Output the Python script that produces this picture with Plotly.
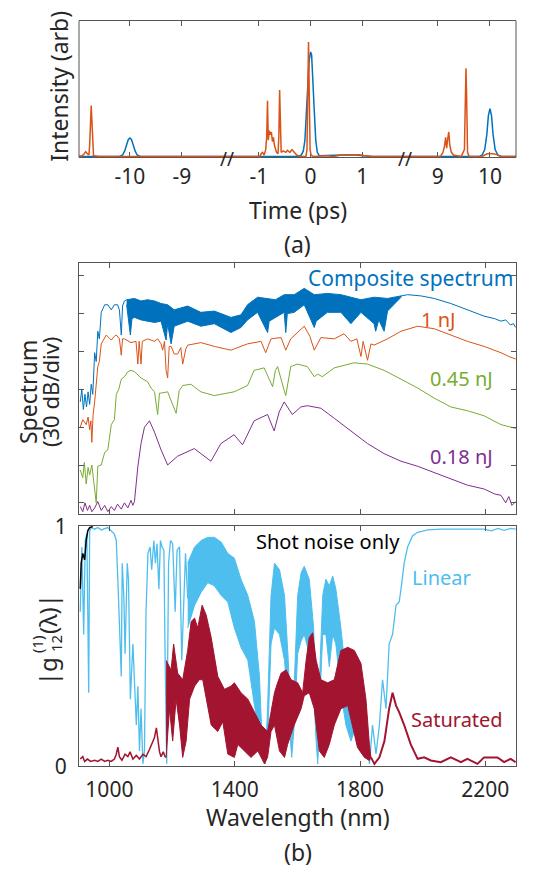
import plotly.graph_objects as go

# ---------------- (a) temporal intensity, time in ps ----------------
t_blue = [-11.0, -10.2, -10.14, -10.1, -10.06, -10.03, -10.0, -9.97, -9.94, -9.9, -9.86, -9.8,
          -1.7, -0.25, -0.18, -0.14, -0.11, -0.08, -0.05, -0.03, 0.0, 0.02, 0.04, 0.07, 0.1, 0.13,
          0.17, 0.35, 0.6, 0.8, 1.0, 1.2,
          8.5, 9.8, 9.85, 9.9, 9.94, 9.97, 10.0, 10.03, 10.06, 10.1, 10.15, 10.22, 10.6]
i_blue = [0, 0, 0.01, 0.04, 0.09, 0.125, 0.135, 0.125, 0.09, 0.04, 0.01, 0,
          0, 0, 0.01, 0.04, 0.12, 0.3, 0.55, 0.7, 0.77, 0.75, 0.62, 0.35, 0.12, 0.03,
          0.005, 0.005, 0.01, 0.012, 0.008, 0,
          0, 0, 0.01, 0.05, 0.16, 0.3, 0.352, 0.3, 0.16, 0.05, 0.01, 0, 0]

t_orange = [-11.0, -10.92, -10.88, -10.85, -10.82, -10.79, -10.775, -10.76, -10.745, -10.73, -10.715, -10.7, -10.6,
            -1.7, -0.98, -0.96, -0.93, -0.9, -0.87, -0.85, -0.835, -0.82, -0.8, -0.78, -0.76, -0.74, -0.72,
            -0.7, -0.68, -0.66, -0.63, -0.615, -0.6, -0.585, -0.57, -0.53, -0.48, -0.45, -0.4, -0.36, -0.32,
            -0.27, -0.2, -0.09, -0.07, -0.055, -0.04, -0.025, -0.01, 0.01, 0.05, 0.3, 0.45, 0.6, 0.75, 0.85,
            0.95, 1.05, 1.2,
            8.5, 9.05, 9.1, 9.13, 9.15, 9.17, 9.19, 9.21, 9.23, 9.26, 9.3, 9.45, 9.51, 9.525, 9.54, 9.555,
            9.57, 9.6, 9.85, 9.9, 9.95, 10.05, 10.12, 10.2, 10.6]
i_orange = [0, 0.005, 0.02, 0.035, 0.02, 0.01, 0.08, 0.3, 0.375, 0.25, 0.05, 0.005, 0,
            0, 0, 0.02, 0.03, 0.01, 0.05, 0.15, 0.41, 0.12, 0.19, 0.16, 0.18, 0.11, 0.14,
            0.08, 0.05, 0.03, 0.02, 0.15, 0.49, 0.15, 0.03, 0.04, 0.03, 0.045, 0.03, 0.05, 0.03,
            0.01, 0, 0, 0.05, 0.4, 0.844, 0.45, 0.05, 0.01, 0, 0.005, 0, 0.01, 0.012, 0.008,
            0.012, 0.005, 0,
            0, 0, 0.03, 0.08, 0.14, 0.06, 0.13, 0.18, 0.08, 0.03, 0.01, 0, 0.05, 0.45, 0.65, 0.4,
            0.03, 0, 0, 0.01, 0.02, 0.02, 0.015, 0, 0]

t_segments = [(-10.98, -8.13), (-1.62, 1.83), (8.37, 10.5)]
t_ticks = [[-10, -9], [-1, 0, 1], [9, 10]]

# ---------------- (b) spectra, dB vs wavelength (nm) ----------------
comp_left = [(907, -110), (912, -100), (917, -116), (922, -104), (927, -114), (932, -102), (937, -112),
             (942, -96), (947, -104), (953, -71), (958, -78), (963, -54), (968, -60), (974, -39),
             (985, -33), (995, -33), (1006, -37), (1016, -33), (1026, -33), (1032, -37), (1038, -57),
             (1042, -34), (1048, -30), (1055, -29)]
comp_hi = [(1055, -29), (1080, -28), (1101, -30), (1122, -29), (1144, -30), (1165, -32), (1186, -33),
           (1207, -37), (1250, -34), (1292, -39), (1335, -38), (1388, -43), (1420, -41), (1441, -33),
           (1473, -27), (1505, -28), (1530, -29), (1558, -25), (1590, -25), (1622, -20), (1654, -25),
           (1696, -24), (1739, -25), (1771, -27), (1803, -29), (1845, -27), (1888, -28), (1909, -27),
           (1931, -26)]
comp_lo = [(1055, -33), (1067, -57), (1072, -44), (1080, -43), (1101, -45), (1122, -46), (1144, -47),
           (1165, -46), (1181, -61), (1186, -48), (1197, -64), (1207, -50), (1250, -46), (1292, -50),
           (1335, -48), (1388, -55), (1420, -51), (1441, -45), (1473, -39), (1505, -55), (1510, -46),
           (1530, -43), (1558, -39), (1563, -55), (1568, -40), (1590, -39), (1622, -33), (1654, -51),
           (1660, -46), (1696, -39), (1739, -39), (1771, -48), (1803, -39), (1845, -48), (1850, -54),
           (1860, -45), (1877, -54), (1888, -38), (1909, -33), (1931, -27)]
comp_right = [(1931, -26), (1952, -25), (1995, -26), (2037, -28), (2090, -32), (2143, -37), (2196, -42),
              (2230, -44), (2250, -46), (2265, -45), (2280, -49), (2290, -48), (2297, -51)]

spec_1nj = [(907, -130), (915, -124), (926, -128), (932, -122), (937, -132), (941, -125), (944, -142),
            (948, -120), (953, -110), (963, -82), (968, -78), (974, -64), (990, -57), (1006, -61),
            (1016, -58), (1022, -57), (1032, -60), (1038, -73), (1042, -60), (1048, -60), (1069, -63),
            (1085, -62), (1091, -80), (1095, -62), (1101, -80), (1105, -62), (1122, -60), (1144, -62),
            (1154, -60), (1165, -64), (1170, -69), (1176, -62), (1181, -85), (1186, -91), (1191, -66),
            (1197, -66), (1207, -72), (1218, -72), (1228, -67), (1234, -80), (1244, -68), (1250, -65),
            (1292, -63), (1335, -66), (1388, -69), (1441, -64), (1484, -62), (1499, -71), (1516, -60),
            (1548, -59), (1563, -69), (1579, -60), (1622, -50), (1640, -58), (1654, -69), (1675, -59),
            (1718, -60), (1749, -56), (1771, -62), (1790, -60), (1803, -74), (1810, -62), (1824, -77),
            (1835, -64), (1845, -65), (1888, -60), (1931, -54), (1984, -50), (2037, -52), (2090, -57),
            (2143, -62), (2196, -66), (2250, -71), (2275, -74), (2297, -76)]

spec_045nj = [(907, -164), (915, -170), (920, -158), (926, -175), (932, -162), (937, -168), (944, -160),
              (950, -172), (958, -190), (963, -161), (974, -160), (985, -150), (995, -148), (1006, -128),
              (1016, -124), (1022, -104), (1030, -100), (1038, -92), (1048, -90), (1059, -86),
              (1069, -85), (1080, -86), (1101, -91), (1122, -94), (1133, -99), (1144, -102),
              (1154, -120), (1160, -103), (1165, -103), (1186, -102), (1213, -119), (1223, -101),
              (1234, -97), (1260, -96), (1292, -102), (1335, -105), (1398, -102), (1441, -97),
              (1462, -85), (1494, -83), (1516, -95), (1521, -98), (1530, -85), (1537, -82), (1558, -101),
              (1563, -105), (1579, -82), (1600, -80), (1632, -82), (1654, -90), (1665, -88), (1680, -90),
              (1718, -83), (1781, -79), (1824, -80), (1877, -85), (1931, -92), (1984, -99), (2037, -107),
              (2090, -114), (2143, -117), (2196, -121), (2250, -128), (2297, -131)]

spec_018nj = [(907, -193), (915, -197), (922, -190), (930, -196), (937, -192), (944, -197), (953, -194),
              (963, -189), (974, -196), (985, -192), (995, -197), (1006, -193), (1016, -196), (1026, -191),
              (1038, -195), (1048, -190), (1059, -194), (1069, -188), (1075, -192), (1080, -189),
              (1091, -161), (1101, -143), (1112, -130), (1128, -125), (1144, -134), (1165, -148),
              (1186, -160), (1218, -153), (1271, -147), (1324, -157), (1356, -143), (1398, -136),
              (1425, -144), (1462, -125), (1505, -120), (1526, -133), (1542, -118), (1558, -110),
              (1584, -120), (1611, -114), (1632, -113), (1675, -115), (1718, -123), (1771, -133),
              (1824, -143), (1877, -151), (1931, -157), (1984, -161), (2037, -166), (2090, -171),
              (2143, -176), (2196, -179), (2230, -183), (2250, -184), (2265, -190), (2275, -185),
              (2285, -192), (2297, -189)]

# ---------------- (b) coherence |g12(1)| ----------------
lin_left = [(907, 0.645), (912, 0.915), (918, 0.55), (923, 0.942), (928, 0.969), (934, 0.307),
            (937, 0.982), (942, 0.996), (953, 0.989), (963, 0.996), (974, 0.986), (995, 0.996),
            (1016, 0.969), (1022, 0.942), (1027, 0.78), (1032, 0.577), (1038, 0.375), (1041, 0.847),
            (1046, 0.712), (1050, 0.469), (1057, 0.847), (1061, 0.78), (1067, 0.28), (1075, 0.51),
            (1080, 0.361), (1086, 0.172), (1091, 0.334), (1096, 0.064), (1101, 0.24), (1107, 0.01),
            (1112, 0.064), (1117, 0.645), (1123, 0.888), (1130, 0.915), (1135, 0.82), (1142, 0.942),
            (1147, 0.847), (1152, 0.928), (1158, 0.739), (1163, 0.942), (1168, 0.915), (1174, 0.901),
            (1178, 0.442), (1183, 0.01), (1189, 0.847), (1195, 0.942), (1202, 0.928), (1210, 0.645),
            (1216, 0.901), (1224, 0.915), (1231, 0.442), (1238, 0.712), (1243, 0.888), (1250, 0.7)]
lin_hi = [(1250, 0.847), (1272, 0.915), (1293, 0.942), (1314, 0.955), (1335, 0.955), (1357, 0.935),
          (1378, 0.888), (1399, 0.868), (1420, 0.78), (1442, 0.712), (1463, 0.604), (1479, 0.375),
          (1489, 0.064), (1497, 0.01), (1505, 0.24), (1516, 0.712), (1527, 0.847), (1543, 0.82),
          (1559, 0.712), (1571, 0.442), (1582, 0.064), (1590, 0.307), (1601, 0.712), (1612, 0.807),
          (1622, 0.834), (1638, 0.78), (1652, 0.577), (1660, 0.24), (1665, 0.037), (1673, 0.442),
          (1681, 0.712), (1691, 0.78), (1702, 0.753), (1713, 0.793), (1723, 0.739), (1739, 0.577),
          (1755, 0.375), (1771, 0.307), (1782, 0.172)]
lin_lo = [(1250, 0.577), (1272, 0.672), (1293, 0.726), (1314, 0.766), (1335, 0.753), (1357, 0.712),
          (1378, 0.685), (1399, 0.577), (1420, 0.496), (1442, 0.442), (1463, 0.253), (1479, 0.145),
          (1489, 0.037), (1497, 0.01), (1505, 0.105), (1516, 0.51), (1527, 0.577), (1543, 0.55),
          (1559, 0.442), (1571, 0.24), (1582, 0.037), (1590, 0.172), (1601, 0.469), (1612, 0.523),
          (1622, 0.55), (1638, 0.469), (1652, 0.307), (1660, 0.105), (1665, 0.01), (1673, 0.307),
          (1681, 0.55), (1691, 0.55), (1702, 0.415), (1713, 0.55), (1723, 0.51), (1739, 0.307),
          (1755, 0.172), (1771, 0.105), (1782, 0.145)]
lin_right = [(1782, 0.172), (1798, 0.415), (1808, 0.064), (1819, 0.24), (1830, 0.01), (1840, 0.172),
             (1851, 0.051), (1862, 0.172), (1872, 0.361), (1883, 0.24), (1893, 0.51), (1904, 0.55),
             (1915, 0.672), (1925, 0.685), (1931, 0.739), (1941, 0.847), (1952, 0.915), (1968, 0.962),
             (1984, 0.976), (2016, 0.986), (2058, 0.989), (2122, 0.989), (2196, 0.989), (2220, 0.982),
             (2240, 0.992), (2260, 0.984), (2281, 0.992), (2297, 0.989)]

sat_left = [(907, 0.03), (915, 0.04), (921, 0.02), (930, 0.03), (940, 0.02), (953, 0.025), (963, 0.02),
            (974, 0.03), (985, 0.02), (995, 0.025), (1006, 0.02), (1016, 0.03), (1022, 0.05),
            (1027, 0.08), (1032, 0.04), (1040, 0.025), (1050, 0.05), (1059, 0.04), (1066, 0.06),
            (1075, 0.03), (1086, 0.045), (1096, 0.03), (1107, 0.05), (1117, 0.04), (1128, 0.07),
            (1138, 0.1), (1144, 0.12), (1150, 0.16), (1155, 0.11), (1160, 0.06), (1165, 0.04),
            (1172, 0.06), (1178, 0.04), (1181, 0.037)]
sat_hi = [(1181, 0.442), (1197, 0.402), (1205, 0.51), (1218, 0.388), (1234, 0.361), (1250, 0.483),
          (1261, 0.604), (1272, 0.618), (1282, 0.577), (1296, 0.672), (1309, 0.631), (1325, 0.537),
          (1346, 0.375), (1367, 0.321), (1388, 0.334), (1399, 0.348), (1420, 0.307), (1442, 0.28),
          (1463, 0.226), (1484, 0.172), (1505, 0.145), (1527, 0.307), (1537, 0.348), (1548, 0.388),
          (1564, 0.402), (1580, 0.361), (1601, 0.348), (1617, 0.307), (1628, 0.442), (1638, 0.537),
          (1649, 0.557), (1660, 0.442), (1675, 0.361), (1697, 0.348), (1718, 0.361), (1739, 0.483),
          (1761, 0.496), (1782, 0.483), (1803, 0.429), (1819, 0.28), (1830, 0.091), (1835, 0.051)]
sat_lo = [(1181, 0.037), (1192, 0.24), (1202, 0.105), (1213, 0.28), (1224, 0.172), (1234, 0.037),
          (1245, 0.105), (1256, 0.28), (1272, 0.334), (1287, 0.361), (1298, 0.361), (1309, 0.28),
          (1325, 0.172), (1346, 0.145), (1362, 0.186), (1378, 0.051), (1399, 0.037), (1410, 0.091),
          (1431, 0.064), (1452, 0.037), (1474, 0.064), (1495, 0.01), (1505, 0.037), (1516, 0.145),
          (1527, 0.172), (1543, 0.064), (1559, 0.037), (1569, 0.091), (1590, 0.172), (1612, 0.24),
          (1622, 0.294), (1638, 0.307), (1654, 0.24), (1670, 0.064), (1686, 0.037), (1702, 0.091),
          (1718, 0.172), (1739, 0.24), (1761, 0.253), (1776, 0.172), (1792, 0.078), (1814, 0.037),
          (1830, 0.024), (1835, 0.037)]
sat_right = [(1835, 0.037), (1846, 0.01), (1862, 0.037), (1878, 0.105), (1893, 0.24), (1904, 0.307),
             (1915, 0.253), (1925, 0.226), (1941, 0.172), (1962, 0.091), (1984, 0.031), (2005, 0.037),
             (2026, 0.024), (2058, 0.017), (2090, 0.037), (2122, 0.017), (2143, 0.031), (2175, 0.01),
             (2196, 0.037), (2239, 0.037), (2260, 0.017), (2281, 0.031), (2297, 0.017)]

shot_noise = [(907, 0.74), (910, 0.847), (915, 0.888), (921, 0.861), (926, 0.942), (931, 0.982),
              (937, 0.996), (947, 1.0)]

wl_ticks = [1000, 1400, 1800, 2200]
db_ticks = [-190, -160, -130, -100, -70, -40, -10]

# colours
C_BLUE = '#0072BD'
C_ORANGE = '#D95319'
C_GREEN = '#77AC30'
C_PURPLE = '#7E2F8E'
C_LIGHT = '#4DBEEE'
C_RED = '#A2142F'
AXC = '#262626'
FRAME = '#555555'
FONT = 'Noto Sans'

W, H = 542, 882
def px(x): return x / W
def py(y): return 1 - y / H

fig = go.Figure()

# --- panel (a): same data drawn on the three axis segments (broken axis) ---
for k in range(3):
    xa = 'x' if k == 0 else 'x%d' % (k + 1)
    fig.add_trace(go.Scatter(x=t_blue, y=i_blue, mode='lines', line=dict(color=C_BLUE, width=1.5),
                             xaxis=xa, yaxis='y', showlegend=False))
    fig.add_trace(go.Scatter(x=t_orange, y=i_orange, mode='lines', line=dict(color=C_ORANGE, width=1.5),
                             xaxis=xa, yaxis='y', showlegend=False))

def line(pts, color, xa, ya, w=1.0):
    x, y = zip(*pts)
    fig.add_trace(go.Scatter(x=list(x), y=list(y), mode='lines', line=dict(color=color, width=w),
                             xaxis=xa, yaxis=ya, showlegend=False))

def band(hi, lo, color, xa, ya):
    # dense fringes drawn as the area between the upper and lower envelope
    pts = list(hi) + list(lo)[::-1]
    x, y = zip(*pts)
    fig.add_trace(go.Scatter(x=list(x), y=list(y), mode='lines', fill='toself', fillcolor=color,
                             line=dict(color=color, width=1), xaxis=xa, yaxis=ya, showlegend=False))

# --- spectra ---
line(spec_018nj, C_PURPLE, 'x4', 'y4')
line(spec_045nj, C_GREEN, 'x4', 'y4')
line(spec_1nj, C_ORANGE, 'x4', 'y4')
line(comp_left, C_BLUE, 'x4', 'y4')
band(comp_hi, comp_lo, C_BLUE, 'x4', 'y4')
line(comp_right, C_BLUE, 'x4', 'y4')

# --- coherence ---
line(lin_left, C_LIGHT, 'x5', 'y5', 1.3)
band(lin_hi, lin_lo, C_LIGHT, 'x5', 'y5')
line(lin_right, C_LIGHT, 'x5', 'y5', 1.3)
line(sat_left, C_RED, 'x5', 'y5', 1.5)
band(sat_hi, sat_lo, C_RED, 'x5', 'y5')
line(sat_right, C_RED, 'x5', 'y5', 2)
line(shot_noise, 'black', 'x5', 'y5', 1.5)

tickfont = dict(family=FONT, size=21, color=AXC)
common = dict(showgrid=False, zeroline=False, showline=True, linecolor=FRAME, linewidth=1,
              ticks='inside', ticklen=5, tickcolor=FRAME, mirror='ticks', tickfont=tickfont)

xl, xr = px(79), px(516)
seg_px = [79, 227, 405, 516]
layout = dict(width=W, height=H, margin=dict(l=0, r=0, t=0, b=0), plot_bgcolor='white',
              paper_bgcolor='white', font=dict(family=FONT, color=AXC), showlegend=False)

for k in range(3):
    key = 'xaxis' if k == 0 else 'xaxis%d' % (k + 1)
    layout[key] = dict(common, domain=[px(seg_px[k]), px(seg_px[k + 1])], range=list(t_segments[k]),
                       anchor='y', tickvals=t_ticks[k], ticktext=[str(v) for v in t_ticks[k]],
                       layer='below traces', ticklabelstandoff=0)
layout['yaxis'] = dict(domain=[py(148), py(7)], range=[-0.008, 1.0], anchor='x', showgrid=False,
                       zeroline=False, showline=False, showticklabels=False, ticks='')

layout['xaxis4'] = dict(common, domain=[xl, xr], range=[903, 2298], anchor='y4', tickvals=wl_ticks,
                        showticklabels=False)
layout['yaxis4'] = dict(common, domain=[py(516), py(257)], range=[-199, 0], anchor='x4',
                        tickvals=db_ticks, showticklabels=False)
layout['xaxis5'] = dict(common, domain=[xl, xr], range=[903, 2298], anchor='y5', tickvals=wl_ticks,
                        ticktext=[str(v) for v in wl_ticks], ticklabelstandoff=5)
layout['yaxis5'] = dict(common, domain=[py(776), py(528)], range=[0, 1.003], anchor='x5',
                        tickvals=[0, 1], ticktext=['0', '1'], ticklabelstandoff=7)

# left/right edges of panel (a); top/bottom come from the x axes
layout['shapes'] = [
    dict(type='line', xref='paper', yref='paper', x0=xl, x1=xl, y0=py(148), y1=py(7),
         line=dict(color=FRAME, width=1)),
    dict(type='line', xref='paper', yref='paper', x0=xr, x1=xr, y0=py(148), y1=py(7),
         line=dict(color=FRAME, width=1)),
]

def ann(text, x, y, size=23, color=AXC, angle=0):
    return dict(text=text, x=px(x), y=py(y), xref='paper', yref='paper', showarrow=False,
                xanchor='center', yanchor='middle', textangle=angle,
                font=dict(family=FONT, size=size, color=color))

layout['annotations'] = [
    ann('//', 227, 150, 19),
    ann('//', 405, 150, 19),
    ann('Time (ps)', 297.5, 202),
    ann('(a)', 297.5, 237),
    ann('Intensity (arb)', 59, 75, angle=-90),
    ann('Spectrum', 28, 390, angle=-90),
    ann('(30 dB/div)', 50, 390, 22, angle=-90),
    # |g_12^(1)(λ)| with the super- and subscript stacked
    ann('|g', 47, 678, 24, angle=-90),
    ann('(1)', 37, 650, 15, angle=-90),
    ann('12', 56, 650, 15, angle=-90),
    ann('(λ)|', 47, 619, 24, angle=-90),
    ann('Wavelength (nm)', 297.5, 828),
    ann('(b)', 297.5, 864),
    ann('Composite spectrum', 410, 272, 21, C_BLUE),
    ann('1 nJ', 438, 315, 20, C_ORANGE),
    ann('0.45 nJ', 461, 376, 20, C_GREEN),
    ann('0.18 nJ', 461, 456, 20, C_PURPLE),
    ann('Shot noise only', 328, 544, 20, 'black'),
    ann('Linear', 441, 581, 20, C_LIGHT),
    ann('Saturated', 457, 728, 20, C_RED),
]

fig.update_layout(**layout)
# page body margin would push the 542x882 figure off the window
fig.write_html('out.html', config={'displayModeBar': False},
               post_script="document.body.style.margin='0';")
